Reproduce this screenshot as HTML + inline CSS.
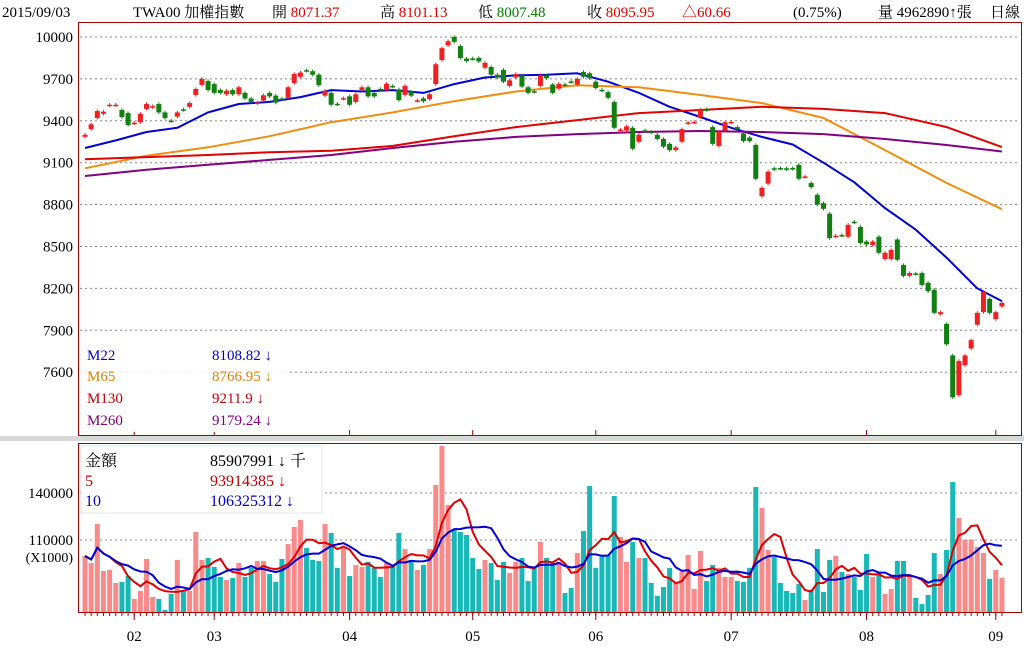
<!DOCTYPE html>
<html><head><meta charset="utf-8">
<style>
body{margin:0;background:#fff;width:1024px;height:662px;overflow:hidden;font-family:"Liberation Serif","Noto Serif CJK SC",serif;}
svg{position:absolute;left:0;top:0}
text{font-family:"Liberation Serif","Noto Serif CJK TC",serif;}
</style></head><body>
<svg id="c" width="1024" height="662">
<g id="hdr" font-size="15">
<text x="2" y="17" fill="#000">2015/09/03</text>
<text x="133" y="17" fill="#000">TWA00 加權指數</text>
<text x="272" y="17"><tspan fill="#000">開 </tspan><tspan fill="#e00000">8071.37</tspan></text>
<text x="380" y="17"><tspan fill="#000">高 </tspan><tspan fill="#e00000">8101.13</tspan></text>
<text x="478" y="17"><tspan fill="#000">低 </tspan><tspan fill="#008000">8007.48</tspan></text>
<text x="587" y="17"><tspan fill="#000">收 </tspan><tspan fill="#e00000">8095.95</tspan></text>
<text x="682" y="17" fill="#e00000">△60.66</text>
<text x="793" y="17" fill="#000">(0.75%)</text>
<text x="878" y="17" fill="#000">量 4962890↑張</text>
<text x="990" y="17" fill="#000">日線</text>
</g>
<rect x="0" y="436" width="1024" height="5" fill="#d8d8d8"/>
<rect x="78.5" y="22.5" width="943" height="413" fill="none" stroke="#a00000"/>
<rect x="78.5" y="443.5" width="943" height="169" fill="none" stroke="#a00000"/>
<g id="grid"></g><g id="ma"></g><g id="candles"></g><g id="vol"></g><g id="vma"></g><g id="axes"></g>
<g>
<rect x="80" y="340" width="210" height="92" fill="#fff" fill-opacity="0.85"/>
<text x="87" y="360" font-size="15" fill="#0000c0">M22</text>
<text x="212" y="360" font-size="15" fill="#0000c0">8108.82 ↓</text>
<text x="87" y="381" font-size="15" fill="#e08000">M65</text>
<text x="212" y="381" font-size="15" fill="#e08000">8766.95 ↓</text>
<text x="87" y="403" font-size="15" fill="#c00000">M130</text>
<text x="212" y="403" font-size="15" fill="#c00000">9211.9 ↓</text>
<text x="87" y="425" font-size="15" fill="#800080">M260</text>
<text x="212" y="425" font-size="15" fill="#800080">9179.24 ↓</text>
</g>
<g>
<rect x="81" y="446" width="241" height="67" fill="#fff" stroke="#e4e4e4"/>
<text x="85" y="466" font-size="16" fill="#000">金額</text>
<text x="210" y="466" font-size="16" fill="#000">85907991 ↓ 千</text>
<text x="85" y="486" font-size="16" fill="#c00000">5</text>
<text x="210" y="486" font-size="16" fill="#c00000">93914385 ↓</text>
<text x="85" y="506" font-size="16" fill="#0000c0">10</text>
<text x="210" y="506" font-size="16" fill="#0000c0">106325312 ↓</text>
</g>
</svg>
<script>
const opens=[9285,9340,9420,9450,9512,9512,9478,9455,9382,9390,9485,9495,9520,9460,9402,9430,9482,9500,9585,9657,
9685,9663,9620,9590,9620,9590,9600,9560,9525,9545,9600,9580,9560,9565,9670,9715,9762,9755,9730,9580,
9600,9522,9558,9575,9535,9620,9640,9600,9628,9620,9650,9625,9585,9610,9543,9560,9555,9663,9835,9940,
10000,9935,9845,9847,9850,9780,9785,9730,9765,9650,9710,9725,9640,9612,9650,9725,9660,9630,9660,9682,
9660,9750,9740,9680,9622,9605,9535,9333,9330,9350,9250,9332,9322,9300,9270,9235,9190,9250,9380,9388,
9427,9482,9355,9220,9330,9388,9355,9310,9280,9227,8860,8950,9060,9062,9060,9062,9085,8998,8955,8870,
8810,8735,8573,8582,8570,8677,8640,8535,8510,8570,8410,8410,8550,8367,8290,8307,8310,8240,8190,8015,
7945,7720,7435,7650,7770,7940,8030,8125,7980,8071];
const closes=[9300,9375,9470,9465,9515,9515,9427,9370,9386,9450,9520,9505,9460,9420,9398,9460,9478,9527,9628,9700,
9620,9600,9600,9615,9590,9640,9560,9535,9532,9583,9575,9530,9555,9640,9735,9745,9758,9730,9655,9615,
9515,9518,9562,9515,9590,9640,9575,9575,9620,9665,9645,9548,9650,9580,9547,9540,9590,9805,9920,9970,
9965,9850,9828,9843,9825,9815,9730,9710,9680,9690,9735,9645,9600,9608,9725,9705,9600,9665,9655,9678,
9700,9715,9705,9635,9618,9565,9350,9337,9360,9200,9300,9328,9318,9270,9215,9190,9210,9340,9388,9392,
9478,9478,9235,9320,9390,9392,9340,9255,9255,8985,8920,9035,9050,9058,9052,9055,8985,9002,8925,8800,
8770,8560,8577,8578,8655,8673,8525,8515,8535,8455,8455,8475,8405,8290,8310,8303,8225,8180,8025,8030,
7800,7420,7680,7720,7830,8025,8175,8025,8030,8096];
const volumes=[99800,95300,120200,90200,90900,82600,83200,87000,72400,77500,97900,73600,72400,65400,75600,97300,77500,77500,115100,97300,
98500,92800,86400,84500,85800,95300,86400,92200,96600,96600,88300,83200,97900,107400,118300,122800,104900,97300,96600,120200,
114500,92200,105500,87000,94000,92800,96000,92200,86400,95300,94000,114500,104300,97300,90900,94000,104300,145100,170000,132300,
117000,115100,113200,98500,91500,97300,95300,84500,96000,89000,96000,98500,83800,92200,108700,98500,95300,96000,76200,79400,
101700,115700,144500,92200,99800,100400,138100,112000,96000,108700,98500,98500,82600,74300,80000,92200,82600,89600,100400,78700,
103000,83800,94000,92200,86400,86400,83800,83200,92200,143800,130400,103600,99200,82600,77500,76200,82000,71700,78100,104300,
76800,97300,99800,89600,88300,86400,78100,101100,86400,89000,75600,78700,96600,96600,87700,73000,69100,74900,101700,88300,
103600,147000,124000,110000,110000,105500,101700,85200,90900,85908];
const ma22Index=[0,5,10,15,20,25,30,35,40,45,50,55,60,65,70,75,80,85,90,95,100,105,110,115,120,125,130,135,140,145,149];
const ma22=[9205,9260,9320,9350,9460,9520,9535,9570,9620,9610,9620,9600,9663,9710,9725,9730,9740,9680,9600,9500,9427,9350,9285,9230,9100,8960,8775,8620,8420,8200,8109];
const maIndex=[0,10,20,30,40,50,60,70,80,90,100,110,120,130,140,149];
const ma65=[9060,9150,9210,9290,9390,9460,9540,9610,9655,9640,9585,9527,9420,9190,8955,8767];
const ma130=[9125,9140,9155,9175,9185,9220,9290,9355,9405,9455,9477,9500,9485,9455,9355,9212];
const ma260=[9005,9050,9085,9120,9155,9205,9250,9285,9305,9320,9327,9320,9305,9270,9227,9180];
const priceTicks=[10000,9700,9400,9100,8800,8500,8200,7900,7600];
const volTicks=[140000,110000];
const monthLabels=["02","03","04","05","06","07","08","09"];
const monthIndex=[8,21,43,63,83,105,127,148];

const NS="http://www.w3.org/2000/svg";
const xI=i=>85+i*6.154;
const yP=p=>37+(10000-p)/300*41.9;
const yV=v=>493+(140000-v)/30000*47;
function mk(tag,attrs,parent){const e=document.createElementNS(NS,tag);for(const k in attrs)e.setAttribute(k,attrs[k]);parent.appendChild(e);return e;}
const grid=document.getElementById('grid'),axes=document.getElementById('axes');
priceTicks.forEach(p=>{
  const l=mk('line',{x1:80,x2:1020,y1:yP(p),y2:yP(p),stroke:'#888','stroke-dasharray':'2,3'},grid);
  
  
  const t=mk('text',{x:73,y:yP(p)+5,'text-anchor':'end','font-size':15,fill:'#000'},axes);
  t.textContent=p;
  
  
});
volTicks.forEach(v=>{
  const l=mk('line',{x1:80,x2:1020,y1:yV(v),y2:yV(v),stroke:'#888','stroke-dasharray':'2,3'},grid);
  
  
  const t=mk('text',{x:73,y:yV(v)+5,'text-anchor':'end','font-size':15,fill:'#000'},axes);
  t.textContent=v;
  
  
});
const u=mk('text',{x:73,y:yV(volTicks[1])+22,'text-anchor':'end','font-size':14,fill:'#000'},axes);
u.textContent='(X1000)';


monthLabels.forEach((m,k)=>{
  const x=xI(monthIndex[k]);
  mk('line',{x1:x,x2:x,y1:430,y2:436,stroke:'#a00000'},axes);
  mk('line',{x1:x,x2:x,y1:612,y2:620,stroke:'#a00000'},axes);
  const t=mk('text',{x:x,y:641,'text-anchor':'middle','font-size':15,fill:'#000'},axes);
  t.textContent=m;
  
  
});
for(let i=0;i<closes.length;i++){mk('line',{x1:xI(i),x2:xI(i),y1:612,y2:616,stroke:'#a00000'},axes);}
const maG=document.getElementById('ma');
[[ma22,ma22Index,'#0000d0','ma22-line'],[ma65,maIndex,'#f08c10','ma65-line'],[ma130,maIndex,'#e00000','ma130-line'],[ma260,maIndex,'#800080','ma260-line']].forEach(([arr,idx,col,name])=>{
  const pts=arr.map((v,k)=>xI(idx[k]).toFixed(1)+','+yP(v).toFixed(1)).join(' ');
  const pl=mk('polyline',{points:pts,fill:'none',stroke:col,'stroke-width':2,'stroke-linejoin':'round'},maG);
  
  
});
const cg=document.getElementById('candles');
for(let i=0;i<closes.length;i++){
  const o=opens[i],c=closes[i],up=c>=o,col=up?'#f02020':'#108010';
  const hi=Math.max(o,c)+12,lo=Math.min(o,c)-12;
  const x=xI(i);
  mk('line',{x1:x,x2:x,y1:yP(hi),y2:yP(lo),stroke:col,'stroke-width':1},cg);
  const t=yP(Math.max(o,c)),b=yP(Math.min(o,c));
  const r=mk('rect',{x:x-2.5,y:t,width:5,height:Math.max(1.5,b-t),fill:col},cg);
  
  
}
const vg=document.getElementById('vol');
for(let i=0;i<volumes.length;i++){
  const up=closes[i]>=opens[i];
  const y=yV(volumes[i]);
  const r=mk('rect',{x:xI(i)-2.5,y:y,width:5,height:612-y,fill:up?'#f88a8a':'#18b8b8'},vg);
  
  
}
const vm=document.getElementById('vma');
[[5,'#e00000','volume-ma5-line'],[10,'#0000d0','volume-ma10-line']].forEach(([n,col,name])=>{
  const pts=[];
  for(let i=0;i<volumes.length;i++){let s=0,k=0;for(let j=Math.max(0,i-n+1);j<=i;j++){s+=volumes[j];k++;}pts.push(xI(i).toFixed(1)+','+yV(s/k).toFixed(1));}
  const pl=mk('polyline',{points:pts.join(' '),fill:'none',stroke:col,'stroke-width':2},vm);
  
  
});
</script>
</body></html>
